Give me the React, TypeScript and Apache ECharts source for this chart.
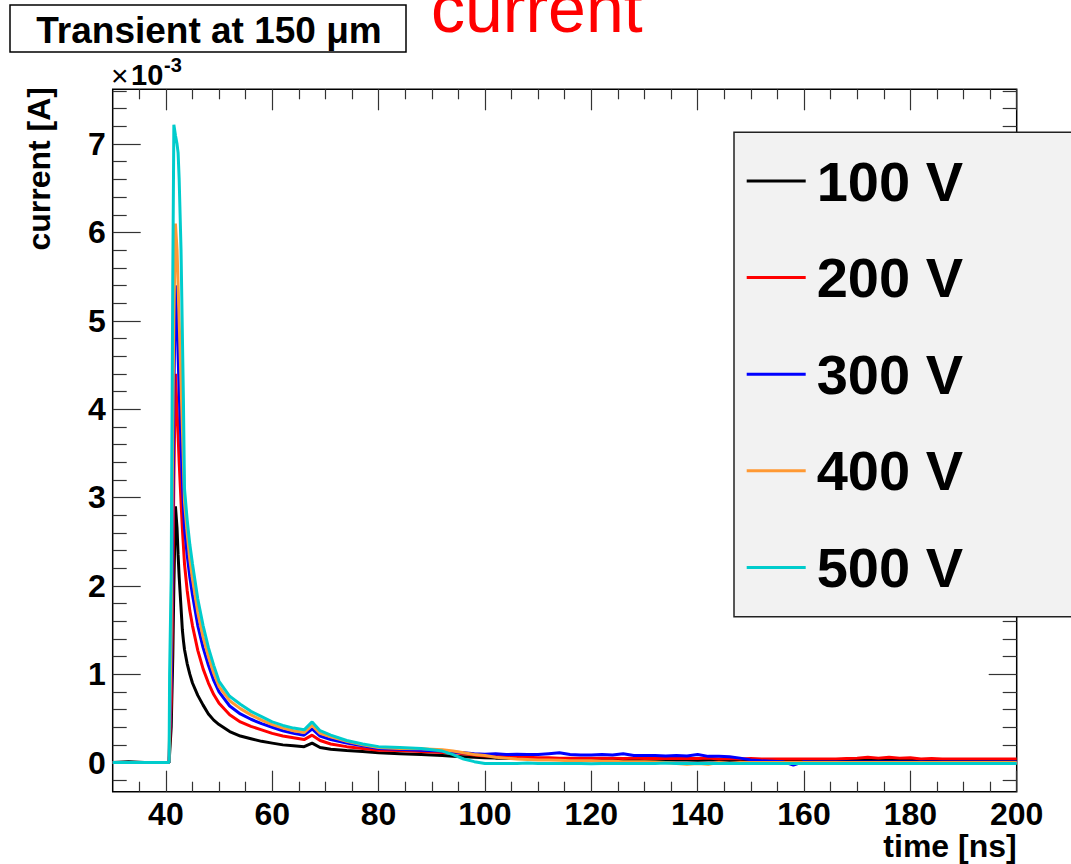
import React, { useEffect, useRef } from "react";
import * as echarts from "echarts";

// time axis (ns)
const timeNs = [
  30, 33, 36, 40.6, 40.7, 41.0, 41.3, 41.5, 41.8, 42.1, 42.3, 42.5, 42.85, 43.1, 43.3, 43.5, 44, 44.5, 45,
  46, 47, 48, 49, 50, 52, 54, 56, 58, 60, 62, 64, 66, 67.5, 69, 71, 74, 77, 80, 84, 88, 92,
  94, 96, 98, 100, 102, 104, 106, 108, 110, 112, 114, 116, 118, 120, 122, 124, 126, 128, 130, 132, 134,
  136, 138, 140, 142, 144, 146, 148, 150, 152, 154, 156, 158, 160, 162, 164, 166, 168, 170, 172, 174,
  176, 178, 180, 182, 184, 186, 188, 190, 192, 194, 196, 198, 200,
];

// current values in units of 1e-3 A
const i100V = [
  0, 0.01, 0, 0, 0.1, 0.4, 1.2, 2.0, 2.9, 2.65, 2.35, 2.1, 1.75, 1.5, 1.38, 1.28, 1.12, 1.0, 0.9,
  0.76, 0.65, 0.55, 0.48, 0.43, 0.35, 0.3, 0.27, 0.24, 0.22, 0.2, 0.19, 0.18, 0.22, 0.17, 0.15, 0.135, 0.125, 0.11, 0.1, 0.09, 0.08,
  0.07, 0.065, 0.06, 0.055, 0.05, 0.05, 0.045, 0.045, 0.04, 0.04, 0.035, 0.04, 0.035, 0.035, 0.035, 0.03, 0.035, 0.03, 0.035, 0.03, 0.03,
  0.03, 0.03, 0.025, 0.03, 0.03, 0.025, 0.03, 0.025, 0.025, 0.025, 0.025, 0.025, 0.025, 0.025, 0.025, 0.025, 0.025, 0.025, 0.025, 0.025,
  0.025, 0.025, 0.025, 0.025, 0.025, 0.025, 0.025, 0.025, 0.025, 0.025, 0.025, 0.025, 0.025,
];
const i200V = [
  0, 0, 0, 0, 0.2, 0.7, 2.0, 3.2, 4.4, 4.0, 3.7, 3.4, 2.95, 2.65, 2.45, 2.25, 1.95, 1.72, 1.55,
  1.27, 1.06, 0.9, 0.77, 0.67, 0.54, 0.46, 0.41, 0.37, 0.33, 0.3, 0.28, 0.26, 0.31, 0.25, 0.21, 0.18, 0.16, 0.14, 0.135, 0.125, 0.115,
  0.11, 0.1, 0.085, 0.075, 0.07, 0.065, 0.06, 0.06, 0.055, 0.055, 0.05, 0.05, 0.05, 0.05, 0.05, 0.05, 0.045, 0.05, 0.045, 0.045, 0.045,
  0.045, 0.045, 0.045, 0.05, 0.04, 0.045, 0.04, 0.045, 0.04, 0.04, 0.04, 0.04, 0.04, 0.04, 0.04, 0.04, 0.045, 0.05, 0.06, 0.05,
  0.06, 0.05, 0.055, 0.04, 0.045, 0.04, 0.04, 0.04, 0.04, 0.04, 0.04, 0.04, 0.04,
];
const i300V = [
  0, 0, 0, 0, 0.3, 1.0, 2.8, 4.2, 5.4, 5.0, 4.6, 4.2, 3.6, 3.2, 2.9, 2.65, 2.35, 2.1, 1.9,
  1.55, 1.3, 1.1, 0.93, 0.8, 0.64, 0.55, 0.49, 0.44, 0.4, 0.36, 0.33, 0.31, 0.38, 0.3, 0.26, 0.22, 0.19, 0.16, 0.15, 0.14, 0.13,
  0.12, 0.11, 0.1, 0.095, 0.1, 0.09, 0.095, 0.09, 0.09, 0.1, 0.11, 0.09, 0.085, 0.085, 0.09, 0.085, 0.1, 0.08, 0.08, 0.08, 0.075,
  0.08, 0.075, 0.09, 0.07, 0.07, 0.065, 0.05, 0.03, 0.02, 0.015, 0.01, -0.03, 0.01, 0.005, 0.005, 0.005, 0.005, 0.005, 0.005, 0.005,
  0.005, 0.005, 0.005, 0.005, 0.005, 0.005, 0.005, 0.005, 0.005, 0.005, 0.005, 0.005, 0.005,
];
const i400V = [
  0, 0, 0, 0, 0.4, 1.5, 3.8, 5.0, 6.1, 5.8, 5.4, 5.0, 4.3, 3.8, 3.4, 2.95, 2.6, 2.3, 2.08,
  1.7, 1.42, 1.2, 1.01, 0.86, 0.7, 0.61, 0.54, 0.48, 0.43, 0.39, 0.36, 0.34, 0.42, 0.33, 0.29, 0.24, 0.2, 0.17, 0.16, 0.155, 0.145,
  0.13, 0.11, 0.09, 0.08, 0.06, 0.05, 0.04, 0.035, 0.03, 0.03, 0.025, 0.02, 0.02, 0.02, 0.015, 0.015, 0.01, 0.01, 0.01, 0.005, 0,
  -0.01, -0.02, -0.01, -0.02, 0, -0.01, 0, 0, 0, 0, 0, 0, 0, 0, 0, 0, 0, 0, 0, 0,
  0, 0, 0, 0, 0, 0, 0, 0, 0, 0, 0, 0, 0,
];
const i500V = [
  0, 0, 0, 0, 1.0, 2.1, 5.5, 7.22, 7.1, 7.0, 6.9, 6.6, 5.8, 4.85, 4.1, 3.1, 2.75, 2.47, 2.25,
  1.85, 1.55, 1.3, 1.1, 0.92, 0.75, 0.66, 0.58, 0.52, 0.46, 0.42, 0.39, 0.37, 0.46, 0.36, 0.31, 0.25, 0.21, 0.18, 0.17, 0.16, 0.13,
  0.09, 0.04, 0.01, -0.01, -0.01, -0.01, -0.01, -0.005, -0.01, -0.01, -0.01, -0.01, -0.01, -0.015, -0.01, -0.01, -0.01, -0.01, -0.01, -0.01, -0.005,
  -0.01, -0.01, -0.01, -0.01, -0.01, -0.01, -0.01, -0.01, -0.01, -0.01, -0.01, -0.01, -0.01, -0.01, -0.01, -0.01, -0.01, -0.01, -0.01, -0.01,
  -0.01, -0.01, -0.01, -0.01, -0.01, -0.01, -0.01, -0.01, -0.01, -0.01, -0.01, -0.01, -0.01,
];

const seriesNames = ["100 V", "200 V", "300 V", "400 V", "500 V"];
const seriesValues = [i100V, i200V, i300V, i400V, i500V];
const seriesColors = ["#000000", "#ff0000", "#0000ff", "#ff9933", "#00cccc"];

const xMajorTicks = [40, 60, 80, 100, 120, 140, 160, 180, 200];
const xMinorTicks = [35, 45, 50, 55, 65, 70, 75, 85, 90, 95, 105, 110, 115, 125, 130, 135, 145, 150, 155, 165, 170, 175, 185, 190, 195];
const yMajorTicks = [0, 1, 2, 3, 4, 5, 6, 7];
const yMinorTicks = [
  -0.2, 0.2, 0.4, 0.6, 0.8, 1.2, 1.4, 1.6, 1.8, 2.2, 2.4, 2.6, 2.8, 3.2, 3.4, 3.6, 3.8,
  4.2, 4.4, 4.6, 4.8, 5.2, 5.4, 5.6, 5.8, 6.2, 6.4, 6.6, 6.8, 7.2, 7.4, 7.6,
];

const FONT = "'Liberation Sans', Arial, Helvetica, sans-serif";
const X_MIN = 30, X_MAX = 200, Y_MIN = -0.33, Y_MAX = 7.62;
const tickLine = { color: "#333", width: 1.2 };

function xAxisDef(position: string, custom: number[], len: number, labels: boolean) {
  return {
    type: "value", gridIndex: 0, position, min: X_MIN, max: X_MAX,
    axisLine: { show: false, onZero: false }, splitLine: { show: false },
    axisTick: { show: true, inside: true, length: len, customValues: custom, lineStyle: tickLine },
    axisLabel: labels
      ? { show: true, customValues: custom, margin: 6, color: "#000", fontSize: 32, fontWeight: "bold", fontFamily: FONT }
      : { show: false },
  };
}
function yAxisDef(position: string, custom: number[], len: number, labels: boolean) {
  return {
    type: "value", gridIndex: 0, position, min: Y_MIN, max: Y_MAX,
    axisLine: { show: false, onZero: false }, splitLine: { show: false },
    axisTick: { show: true, inside: true, length: len, customValues: custom, lineStyle: tickLine },
    axisLabel: labels
      ? { show: true, customValues: custom, margin: 7, color: "#000", fontSize: 32, fontWeight: "bold", fontFamily: FONT }
      : { show: false },
  };
}

export default function App() {
  const ref = useRef<HTMLDivElement>(null);
  useEffect(() => {
    document.body.style.margin = "0";
    const chart = echarts.init(ref.current!, null, { renderer: "svg" });
    chart.setOption({
      animation: false,
      backgroundColor: "#ffffff",
      grid: {
        left: 112.7, right: 54.3, top: 89.3, bottom: 72.3,
        show: true, borderColor: "#000", borderWidth: 1.5, backgroundColor: "transparent",
      },
      xAxis: [
        xAxisDef("bottom", xMajorTicks, 21, true),
        xAxisDef("bottom", xMinorTicks, 10, false),
        xAxisDef("top", xMajorTicks, 21, false),
        xAxisDef("top", xMinorTicks, 10, false),
      ],
      yAxis: [
        yAxisDef("left", yMajorTicks, 28, true),
        yAxisDef("left", yMinorTicks, 14, false),
        yAxisDef("right", yMajorTicks, 28, false),
        yAxisDef("right", yMinorTicks, 14, false),
      ],
      legend: {
        orient: "vertical",
        left: 734, top: 132,
        padding: [7, 10, 10, 12.7],
        icon: "rect",
        itemWidth: 59, itemHeight: 3,
        itemGap: 12.6,
        z: 60,
        selectedMode: false,
        data: seriesNames,
        textStyle: {
          color: "#000", fontSize: 56, fontWeight: "bold", fontFamily: FONT,
          lineHeight: 56, padding: [28, 0, 0, 6],
        },
      },
      graphic: [
        {
          type: "rect", z: 50, silent: true,
          shape: { x: 734, y: 132.3, width: 400, height: 484.4 },
          style: { fill: "#f2f2f2", stroke: "#222", lineWidth: 1.5 },
        },
        {
          type: "rect", z: 50, silent: true,
          shape: { x: 10, y: 5, width: 396, height: 47 },
          style: { fill: "#fff", stroke: "#000", lineWidth: 1.5 },
        },
        {
          type: "text", z: 51, x: 209, y: 30.5, silent: true,
          style: { text: "Transient at 150 μm", fontSize: 37, fontWeight: "bold", fontFamily: FONT, fill: "#000", align: "center", verticalAlign: "middle" },
        },
        {
          type: "text", z: 51, x: 431, y: 8.4, silent: true,
          style: { text: "current", fontSize: 68, fontFamily: FONT, fill: "#ff0000", align: "left", verticalAlign: "middle" },
        },
        {
          type: "text", z: 51, x: 111, y: 75.5, silent: true,
          style: { text: "×", fontSize: 30, fontFamily: FONT, fill: "#000", align: "left", verticalAlign: "middle" },
        },
        {
          type: "text", z: 51, x: 131, y: 75.3, silent: true,
          style: { text: "10", fontSize: 29, fontWeight: "bold", fontFamily: FONT, fill: "#000", align: "left", verticalAlign: "middle" },
        },
        {
          type: "text", z: 51, x: 164, y: 65, silent: true,
          style: { text: "-3", fontSize: 20, fontWeight: "bold", fontFamily: FONT, fill: "#000", align: "left", verticalAlign: "middle" },
        },
        {
          type: "text", z: 51, x: 1016.7, y: 846, silent: true,
          style: { text: "time [ns]", fontSize: 32, fontWeight: "bold", fontFamily: FONT, fill: "#000", align: "right", verticalAlign: "middle" },
        },
        {
          type: "text", z: 51, x: 39, y: 87, rotation: Math.PI / 2, silent: true,
          style: { text: "current [A]", fontSize: 32, fontWeight: "bold", fontFamily: FONT, fill: "#000", align: "right", verticalAlign: "middle" },
        },
      ],
      series: seriesNames.map((name, k) => ({
        name,
        type: "line",
        xAxisIndex: 0,
        yAxisIndex: 0,
        symbol: "none",
        showSymbol: false,
        silent: true,
        z: 2 + k * 0.01,
        color: seriesColors[k],
        lineStyle: { color: seriesColors[k], width: 3 },
        data: timeNs.map((t, i) => [t, seriesValues[k][i]]),
      })),
    });
    return () => chart.dispose();
  }, []);
  return <div ref={ref} style={{ position: "absolute", left: 0, top: 0, width: 1071, height: 864 }} />;
}
